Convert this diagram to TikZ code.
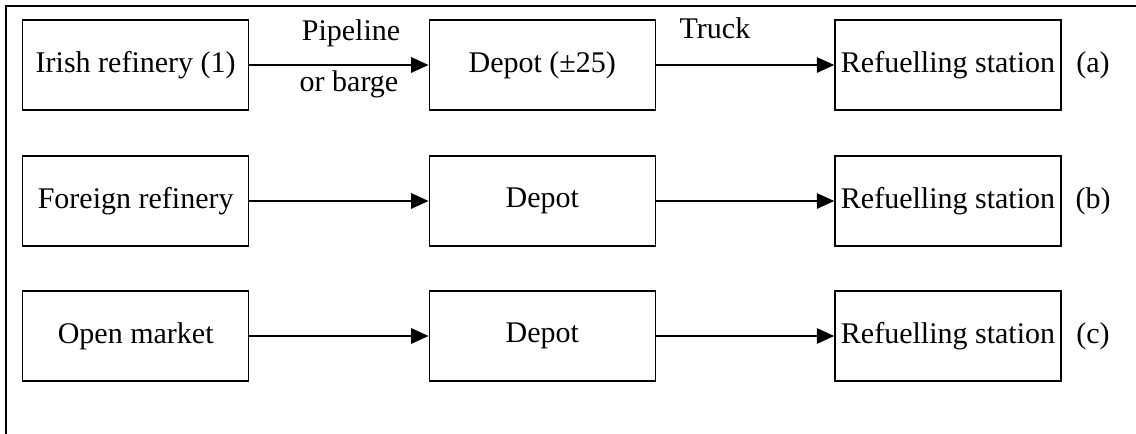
\documentclass[tikz,border=0pt]{standalone}
\usepackage{fontspec}
\setmainfont{Liberation Serif}
\usetikzlibrary{arrows.meta}

\tikzset{
  stage/.style={draw, line width=1.1pt, minimum width=169.5pt, minimum height=67.5pt, inner sep=0pt},
  flow/.style={line width=1.2pt, -{Triangle[length=13pt,width=11.5pt]}},
  tag/.style={inner sep=0pt}
}

\begin{document}
\begin{tikzpicture}[x=0.75pt, y=-0.75pt, font=\fontsize{22.5}{27}\selectfont]
\useasboundingbox (0,0) rectangle (1136,434);
\draw [line width=2pt] (6,434) -- (6,6) -- (1136,6);

% row (a)
\node[stage] (irish) at (135.7,65) {Irish refinery (1)};
\node[stage] (depotA) at (542.3,65) {Depot (±25)};
\node[stage] (stationA) at (948,65) {Refuelling station};
\node[tag] (labA) at (1093,65) {(a)};
\draw[flow] (irish) -- (depotA);
\draw[flow] (depotA) -- (stationA);
\node[tag] (pipe) at (351,33) {Pipeline};
\node[tag] (barge) at (349,84) {or barge};
\node[tag] (truck) at (715,28) {Truck};

% row (b)
\node[stage] (foreign) at (135.7,201) {Foreign refinery};
\node[stage] (depotB) at (542.3,201) {Depot};
\node[stage] (stationB) at (948,201) {Refuelling station};
\node[tag] (labB) at (1093,201) {(b)};
\draw[flow] (foreign) -- (depotB);
\draw[flow] (depotB) -- (stationB);

% row (c)
\node[stage] (market) at (135.7,336) {Open market};
\node[stage] (depotC) at (542.3,336) {Depot};
\node[stage] (stationC) at (948,336) {Refuelling station};
\node[tag] (labC) at (1093,336) {(c)};
\draw[flow] (market) -- (depotC);
\draw[flow] (depotC) -- (stationC);
\end{tikzpicture}
\end{document}
